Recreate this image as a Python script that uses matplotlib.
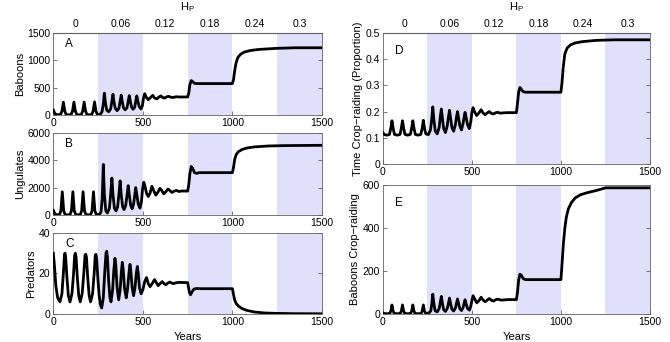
import matplotlib
matplotlib.use('Agg')
import matplotlib.pyplot as plt

plt.rcParams['font.family'] = ['Liberation Sans', 'DejaVu Sans']
plt.rcParams['mathtext.fontset'] = 'custom'
plt.rcParams['mathtext.rm'] = 'Liberation Sans'
plt.rcParams['mathtext.it'] = 'Liberation Sans'
plt.rcParams['font.size'] = 7.5

# shaded harvesting bands (years) and H_P labels on the top axis
bands = [(250, 500), (750, 1000), (1250, 1500)]
hp_pos = [125, 375, 625, 875, 1125, 1375]
hp_labels = ['0', '0.06', '0.12', '0.18', '0.24', '0.3']

baboon_t = [0, 8, 18, 40, 48, 56, 64, 72, 86, 99, 107, 115, 123, 131, 144, 156, 164, 172, 180, 188,
            201, 214, 222, 230, 238, 246, 260, 272, 279, 285, 291, 298, 309, 320, 327, 333, 339, 346,
            356, 366, 373, 379, 385, 392, 401, 411, 418, 424, 430, 437, 445, 454, 460, 466, 472, 480,
            490, 497, 503, 510, 518, 530, 543, 555, 566, 578, 590, 600, 611, 622, 634, 645, 657, 670,
            685, 700, 750, 756, 762, 770, 778, 788, 800, 1000, 1006, 1012, 1020, 1030, 1045, 1065,
            1100, 1150, 1250, 1350, 1500]
baboon_v = [90, 30, 5, 8, 70, 235, 70, 8, 3, 8, 70, 235, 70, 8, 3, 8, 70, 235, 70, 8,
            3, 8, 70, 240, 70, 10, 5, 60, 200, 400, 220, 90, 60, 110, 250, 380, 230, 120,
            80, 120, 250, 365, 240, 130, 95, 130, 250, 355, 250, 140, 105, 140, 250, 350, 250, 150,
            110, 170, 300, 390, 330, 280, 320, 360, 310, 295, 330, 350, 320, 310, 335, 340, 325, 320,
            335, 330, 330, 400, 550, 630, 610, 580, 575, 575, 650, 800, 950, 1050, 1110, 1150,
            1180, 1200, 1220, 1230, 1230]

ungulate_t = [0, 8, 18, 34, 42, 50, 58, 66, 80, 93, 101, 109, 117, 125, 138, 150, 158, 166, 174, 182,
              195, 208, 216, 224, 232, 240, 255, 266, 273, 279, 285, 293, 302, 313, 320, 327, 333, 341,
              350, 359, 366, 373, 379, 387, 395, 404, 411, 418, 424, 432, 440, 448, 454, 460, 466, 474,
              484, 492, 498, 505, 512, 520, 530, 540, 550, 560, 572, 583, 595, 605, 616, 628, 640, 650,
              662, 675, 688, 700, 720, 750, 756, 762, 770, 778, 788, 800, 815, 1000, 1006, 1013, 1022,
              1035, 1055, 1080, 1120, 1200, 1300, 1500]
ungulate_v = [350, 100, 20, 20, 300, 1700, 300, 30, 10, 20, 300, 1700, 300, 30, 10, 20, 300, 1700, 300, 30,
              10, 20, 300, 1700, 300, 40, 20, 200, 1200, 3700, 1500, 300, 150, 500, 1500, 2700, 1500, 500,
              300, 600, 1500, 2500, 1500, 600, 400, 700, 1400, 2150, 1500, 700, 450, 800, 1400, 2000, 1500, 800,
              500, 1000, 1900, 2400, 2100, 1600, 1350, 1600, 2100, 1800, 1450, 1650, 1950, 1800, 1550, 1700, 1900, 1800,
              1650, 1750, 1800, 1720, 1760, 1750, 2200, 3000, 3550, 3400, 3100, 3050, 3100, 3100, 3500, 4100, 4450,
              4650, 4800, 4900, 4980, 5050, 5080, 5100]

predator_t = [0, 6, 14, 24, 37, 48, 56, 62, 65, 69, 76, 84, 93, 104, 113, 119, 123, 127, 134, 142,
              150, 161, 170, 177, 181, 185, 192, 200, 208, 219, 228, 234, 238, 242, 249, 256, 262, 270,
              279, 288, 294, 298, 302, 309, 316, 322, 331, 338, 344, 349, 356, 365, 373, 380, 385, 390,
              397, 407, 414, 422, 428, 433, 440, 448, 456, 463, 469, 474, 481, 490, 500, 510, 520, 530,
              540, 552, 565, 575, 585, 596, 608, 618, 628, 640, 650, 660, 670, 685, 700, 750, 755, 760,
              766, 775, 785, 800, 820, 1000, 1005, 1012, 1022, 1035, 1055, 1080, 1120, 1180, 1250, 1350, 1500]
predator_v = [30, 24, 14, 8, 6, 10, 20, 29, 30, 28, 18, 9, 6, 10, 20, 29, 30, 28, 18, 9,
              6, 10, 20, 29, 29.5, 28, 18, 9, 6, 10, 20, 29, 29.5, 27, 17, 9, 5, 3,
              8, 22, 30, 31, 28, 16, 8, 6, 12, 22, 27.5, 24, 13, 7, 12, 21, 25.5, 22,
              13, 8, 12, 20, 24.5, 21, 13, 9, 13, 20, 23.5, 20, 13, 10, 12, 16, 18, 15,
              13.5, 15, 17, 15.5, 14, 15, 16, 15, 14.5, 15.3, 15.8, 15.3, 15, 15.4, 15.6, 15.5, 13, 10.5,
              9.5, 11, 12.3, 12.6, 12.5, 12.5, 10, 7, 5, 3.8, 2.6, 1.8, 1.0, 0.5, 0.3, 0.15, 0.1]

raid_prop_t = [0, 10, 25, 38, 45, 52, 59, 66, 82, 97, 104, 111, 118, 125, 140, 155, 162, 169, 176, 183,
               198, 214, 221, 228, 235, 242, 256, 268, 275, 281, 287, 295, 306, 317, 323, 329, 335, 342,
               352, 362, 369, 375, 381, 388, 398, 408, 414, 420, 426, 433, 442, 451, 457, 462, 468, 476,
               486, 494, 500, 507, 515, 527, 540, 552, 563, 575, 587, 598, 610, 622, 635, 646, 660, 675,
               700, 750, 756, 763, 770, 778, 788, 800, 1000, 1006, 1013, 1022, 1035, 1055, 1080, 1120,
               1200, 1300, 1500]
raid_prop_v = [0.12, 0.112, 0.11, 0.113, 0.135, 0.165, 0.135, 0.113, 0.11, 0.113, 0.135, 0.165, 0.135, 0.113,
               0.11, 0.113, 0.135, 0.165, 0.135, 0.113, 0.11, 0.113, 0.135, 0.167, 0.135, 0.115, 0.112, 0.13,
               0.17, 0.218, 0.17, 0.125, 0.115, 0.14, 0.18, 0.21, 0.175, 0.135, 0.12, 0.145, 0.18, 0.205,
               0.175, 0.14, 0.125, 0.15, 0.18, 0.2, 0.175, 0.145, 0.13, 0.155, 0.18, 0.197, 0.178, 0.15,
               0.135, 0.16, 0.195, 0.215, 0.2, 0.185, 0.195, 0.207, 0.195, 0.188, 0.195, 0.2, 0.193, 0.191,
               0.196, 0.197, 0.194, 0.195, 0.196, 0.196, 0.23, 0.275, 0.292, 0.285, 0.276, 0.274, 0.274,
               0.31, 0.37, 0.42, 0.443, 0.455, 0.462, 0.467, 0.472, 0.474, 0.474]

raid_num_t = [0, 10, 25, 40, 46, 52, 58, 64, 82, 99, 105, 111, 117, 123, 140, 157, 163, 169, 175, 181,
              198, 216, 222, 228, 234, 240, 258, 270, 276, 281, 287, 294, 306, 317, 323, 329, 335, 342,
              352, 362, 369, 375, 381, 388, 398, 408, 414, 420, 426, 433, 442, 451, 457, 462, 468, 476,
              486, 494, 500, 507, 515, 528, 540, 552, 563, 575, 587, 598, 610, 622, 635, 646, 660, 675,
              700, 750, 756, 763, 770, 778, 788, 800, 1000, 1006, 1014, 1022, 1030, 1042, 1060, 1080,
              1110, 1150, 1200, 1250, 1500]
raid_num_v = [5, 2, 1, 3, 15, 42, 15, 3, 1, 3, 15, 42, 15, 3, 1, 3, 15, 42, 15, 3,
              1, 3, 15, 42, 15, 4, 3, 15, 50, 92, 50, 15, 10, 25, 55, 82, 50, 20,
              12, 25, 50, 74, 48, 22, 14, 28, 50, 70, 47, 24, 16, 30, 50, 66, 47, 26,
              18, 35, 60, 85, 72, 52, 62, 78, 65, 57, 65, 72, 64, 60, 67, 69, 65, 65,
              67, 67, 100, 160, 185, 180, 165, 160, 160, 230, 330, 400, 450, 490, 520, 540,
              555, 565, 575, 587, 587]

band_color = '#e0e0fb'
spine_color = '#606060'

fig = plt.figure(figsize=(6.7, 3.42), dpi=100)

panels = [
    # rect, t, v, ylim, yticks, ylabel, letter, top labels, xlabel
    ([0.0796, 0.6637, 0.401, 0.2398], baboon_t, baboon_v, (0, 1500), [0, 500, 1000, 1500], 'Baboons', 'A', True, False),
    ([0.0796, 0.3713, 0.401, 0.2398], ungulate_t, ungulate_v, (0, 6000), [0, 2000, 4000, 6000], 'Ungulates', 'B', False, False),
    ([0.0796, 0.0819, 0.401, 0.2368], predator_t, predator_v, (0, 40), [0, 20, 40], 'Predators', 'C', False, True),
    ([0.5712, 0.5205, 0.399, 0.3830], raid_prop_t, raid_prop_v, (0, 0.5), [0, 0.1, 0.2, 0.3, 0.4, 0.5],
     'Time Crop\u2212raiding (Proportion)', 'D', True, False),
    ([0.5712, 0.0819, 0.399, 0.3770], raid_num_t, raid_num_v, (0, 600), [0, 200, 400, 600],
     'Baboons Crop\u2212raiding', 'E', False, True),
]

for rect, t, v, ylim, yticks, ylabel, letter, top, xlab in panels:
    ax = fig.add_axes(rect)
    for a, b in bands:
        ax.axvspan(a, b, color=band_color, lw=0, zorder=0)
    ax.plot(t, v, color='black', lw=2.0, solid_joinstyle='round', zorder=3)
    ax.set_xlim(0, 1500)
    ax.set_ylim(*ylim)
    ax.set_xticks([0, 500, 1000, 1500])
    ax.set_yticks(yticks)
    ax.set_yticklabels([('%g' % y) for y in yticks])
    ax.tick_params(direction='in', length=3, width=0.6, top=False, right=True,
                   colors=spine_color, labelcolor='black', pad=2)
    for s in ax.spines.values():
        s.set_color(spine_color)
        s.set_linewidth(0.6)
    ax.set_ylabel(ylabel, labelpad=2, fontsize=8)
    ax.text(0.045, 0.86, letter, transform=ax.transAxes, fontsize=8.5, va='center')
    if top:
        sec = ax.secondary_xaxis('top')
        sec.set_xticks(hp_pos)
        sec.set_xticklabels(hp_labels)
        sec.tick_params(length=0, pad=3)
        sec.spines['top'].set_color(spine_color)
        sec.set_xlabel(r'H$_\mathrm{P}$', labelpad=6, fontsize=8)
    if xlab:
        ax.set_xlabel('Years', labelpad=4, fontsize=8)

fig.savefig('out.png', dpi=100)
